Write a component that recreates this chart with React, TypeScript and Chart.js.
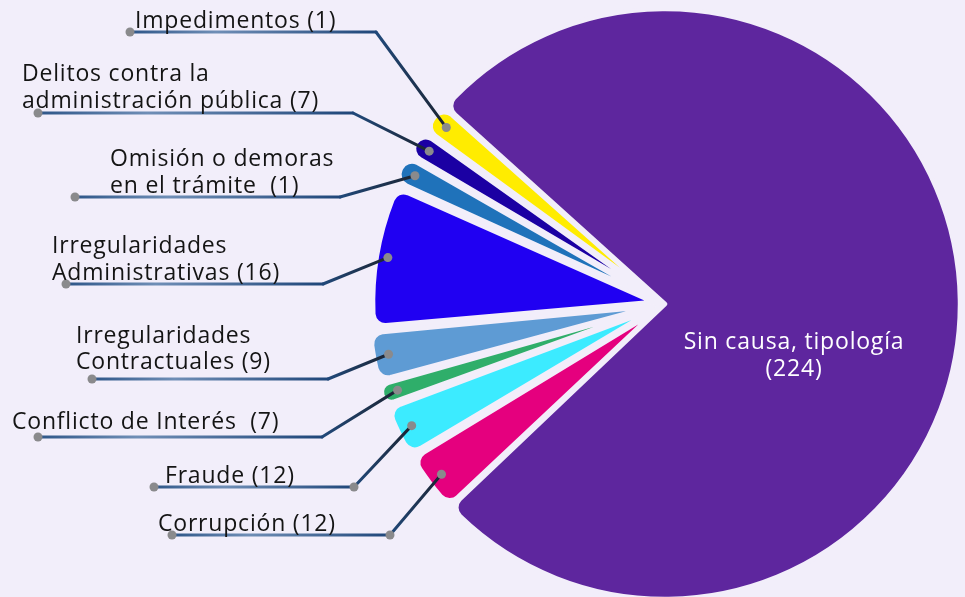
import React, { useEffect, useRef } from "react";
import { Chart, registerables } from "chart.js";

Chart.register(...registerables);

const BG = "#F2EEFA";

// Category names split into display lines (the count is appended to the last line)
const categoryLines: string[][] = [
  ["Sin causa, tipología", ""],
  ["Corrupción "],
  ["Fraude "],
  ["Conflicto de Interés  "],
  ["Irregularidades", "Contractuales "],
  ["Irregularidades", "Administrativas "],
  ["Omisión o demoras", "en el trámite  "],
  ["Delitos contra la", "administración pública "],
  ["Impedimentos "],
];

// Counts shown in the labels
const counts = [224, 12, 12, 7, 9, 16, 1, 7, 1];

// Angular share of each slice as drawn in the picture (degrees of the circle)
const sliceShares = [274.4, 12.5, 10.8, 4.8, 10.3, 29.3, 6.0, 5.6, 6.3];

const sliceColors = [
  "#5E269E",
  "#E5007E",
  "#3CEBFF",
  "#2FAE6A",
  "#5E9BD4",
  "#2000F2",
  "#1F72BA",
  "#1B00A3",
  "#FFEC00",
];

const sliceOffsets = [0, 48, 48, 48, 48, 48, 48, 48, 48];

// Leader-label layout (pixel positions of elbows, line ends and text)
const leaderLayout: any[] = [
  { textX: 794, textY: [349, 376], center: true },
  { elbowX: 390, lineY: 535, endX: 172, textX: 158, textY: [531], elbowDot: true },
  { elbowX: 354, lineY: 487, endX: 154, textX: 165, textY: [483], elbowDot: true },
  { elbowX: 322, lineY: 437, endX: 38, textX: 12, textY: [429] },
  { elbowX: 328, lineY: 379, endX: 92, textX: 76, textY: [343, 369] },
  { elbowX: 323, lineY: 284, endX: 66, textX: 52, textY: [253, 280] },
  { elbowX: 340, lineY: 197, endX: 75, textX: 110, textY: [166, 193] },
  { elbowX: 353, lineY: 113, endX: 38, textX: 22, textY: [81, 108] },
  { elbowX: 376, lineY: 32, endX: 130, textX: 135, textY: [28] },
];

const labelText = (i: number): string[] => {
  const lines = categoryLines[i].slice();
  lines[lines.length - 1] = lines[lines.length - 1] + "(" + counts[i] + ")";
  return lines;
};

const categories = categoryLines.map((l) => l.join(" ").trim());

const SMALL_RADIUS = 274;
const LEAD_RADIUS = 295;

export default function App() {
  const ref = useRef<HTMLCanvasElement>(null);

  useEffect(() => {
    const radiusPlugin = {
      id: "leadRadius",
      afterDatasetsUpdate(chart: any) {
        const meta = chart.getDatasetMeta(0);
        const arc = meta.data[0];
        if (arc) arc.outerRadius = LEAD_RADIUS;
      },
    };

    const leaderPlugin = {
      id: "leaders",
      afterDatasetsDraw(chart: any) {
        const ctx: any = chart.ctx;
        const meta = chart.getDatasetMeta(0);
        ctx.save();
        ctx.font = '23px "Open Sans"';
        ctx.letterSpacing = "0.8px";
        ctx.textBaseline = "alphabetic";
        meta.data.forEach((arc: any, i: number) => {
          const lay = leaderLayout[i];
          const lines = labelText(i);
          if (i === 0) {
            ctx.fillStyle = "#FFFFFF";
            ctx.textAlign = "center";
            lines.forEach((t: string, k: number) => ctx.fillText(t, lay.textX, lay.textY[k]));
            return;
          }
          const { x, y, startAngle, endAngle, outerRadius } = arc.getProps(
            ["x", "y", "startAngle", "endAngle", "outerRadius"],
            true
          );
          const off = sliceOffsets[i] / 4;
          const mid = (startAngle + endAngle) / 2;
          const cx = x + Math.cos(mid) * off;
          const cy = y + Math.sin(mid) * off;
          const r = outerRadius + off - 17;
          const ax = cx + Math.cos(mid) * r;
          const ay = cy + Math.sin(mid) * r;

          ctx.lineWidth = 3;
          ctx.lineCap = "round";
          const g1 = ctx.createLinearGradient(ax, ay, lay.elbowX, lay.lineY);
          g1.addColorStop(0, "#1B2331");
          g1.addColorStop(1, "#21497A");
          ctx.strokeStyle = g1;
          ctx.beginPath();
          ctx.moveTo(ax, ay);
          ctx.lineTo(lay.elbowX, lay.lineY);
          ctx.stroke();
          const g2 = ctx.createLinearGradient(lay.endX, 0, lay.elbowX, 0);
          g2.addColorStop(0, "#2E5688");
          g2.addColorStop(0.35, "#6F8EB6");
          g2.addColorStop(1, "#1F4679");
          ctx.strokeStyle = g2;
          ctx.beginPath();
          ctx.moveTo(lay.elbowX, lay.lineY);
          ctx.lineTo(lay.endX, lay.lineY);
          ctx.stroke();

          ctx.fillStyle = "#8A8A8C";
          const dot = (px: number, py: number) => {
            ctx.beginPath();
            ctx.arc(px, py, 4.5, 0, Math.PI * 2);
            ctx.fill();
          };
          dot(ax, ay);
          dot(lay.endX, lay.lineY);
          if (lay.elbowDot) dot(lay.elbowX, lay.lineY);

          ctx.fillStyle = "#141414";
          ctx.textAlign = "left";
          lines.forEach((t: string, k: number) => ctx.fillText(t, lay.textX, lay.textY[k]));
        });
        ctx.restore();
      },
    };

    const chart = new Chart(ref.current as HTMLCanvasElement, {
      type: "pie",
      data: {
        labels: categories,
        datasets: [
          {
            data: sliceShares,
            backgroundColor: sliceColors,
            borderColor: BG,
            borderWidth: 4.5,
            borderRadius: 12,
            borderJoinStyle: "round",
            offset: sliceOffsets,
            hoverOffset: 0,
            radius: SMALL_RADIUS,
          } as any,
        ],
      },
      options: {
        animation: false,
        responsive: false,
        events: [],
        rotation: -47.95,
        layout: { padding: { left: 365, top: 11, right: 0, bottom: 0 } },
        plugins: {
          legend: { display: false },
          tooltip: { enabled: false },
        },
      } as any,
      plugins: [radiusPlugin, leaderPlugin],
    });
    return () => chart.destroy();
  }, []);

  return (
    <div
      style={{
        position: "fixed",
        left: 0,
        top: 0,
        width: 965,
        height: 597,
        background: BG,
        overflow: "hidden",
      }}
    >
      <canvas ref={ref} width={965} height={597} style={{ display: "block" }} />
    </div>
  );
}
